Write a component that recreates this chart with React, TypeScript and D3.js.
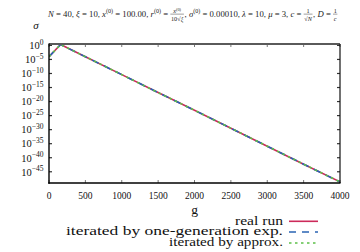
import React from "react";
import * as d3 from "d3";

const generations = [0, 160, 500, 1000, 1500, 2000, 2500, 3000, 3500, 4000];
const realRun = [1e-4, 2, 9.3e-5, 4e-11, 1.6e-17, 8e-24, 3.2e-30, 1.3e-36, 5e-43, 2.5e-49];
const oneGenExp = [1e-4, 2, 9.3e-5, 4e-11, 1.6e-17, 8e-24, 3.2e-30, 1.3e-36, 5e-43, 2.5e-49];
const approxRun = [1e-4, 2, 9.3e-5, 4e-11, 1.6e-17, 8e-24, 3.2e-30, 1.3e-36, 5e-43, 2.5e-49];
const xTicks = [0, 500, 1000, 1500, 2000, 2500, 3000, 3500, 4000];
const yTickExps = [0, -5, -10, -15, -20, -25, -30, -35, -40, -45];
const legendLabels = ["real run", "iterated by one-generation exp.", "iterated by approx."];
const legendWidths = [48, 217, 114];
const seriesColors = ["#cc2a5a", "#2a64b4", "#5cc048"];
const seriesDash = ["", "7,6", "2.5,3.5"];

const W = 360;
const H = 252;
const M = { left: 49, right: 340, top: 44, bottom: 183 };
const FONT = "'Liberation Serif', 'Times New Roman', serif";

type Part = { t: string; it?: boolean; sup?: boolean };
type Seg = { kind: "text"; parts: Part[] } | { kind: "frac"; num: Part[]; den: Part[] };

const titleSegs: Seg[] = [
  { kind: "text", parts: [{ t: "N", it: true }, { t: " = 40, " }, { t: "ξ", it: true }, { t: " = 10, " },
    { t: "x", it: true }, { t: "(0)", sup: true }, { t: " = 100.00, " },
    { t: "r", it: true }, { t: "(0)", sup: true }, { t: " = " }] },
  { kind: "frac", num: [{ t: "x", it: true }, { t: "(0)", sup: true }], den: [{ t: "10√" }, { t: "ξ", it: true }] },
  { kind: "text", parts: [{ t: ", " }, { t: "σ", it: true }, { t: "(0)", sup: true }, { t: " = 0.00010, " },
    { t: "λ", it: true }, { t: " = 10, " }, { t: "μ", it: true }, { t: " = 3, " },
    { t: "c", it: true }, { t: " = " }] },
  { kind: "frac", num: [{ t: "1" }], den: [{ t: "√" }, { t: "N", it: true }] },
  { kind: "text", parts: [{ t: ", " }, { t: "D", it: true }, { t: " = " }] },
  { kind: "frac", num: [{ t: "1" }], den: [{ t: "c", it: true }] },
];

let ctx: CanvasRenderingContext2D | null = null;
function measureParts(parts: Part[], size: number): number {
  if (!ctx) ctx = document.createElement("canvas").getContext("2d");
  let w = 0;
  parts.forEach((p) => {
    const s = p.sup ? size * 0.7 : size;
    ctx!.font = `${p.it ? "italic " : ""}${s}px 'Liberation Serif'`;
    w += ctx!.measureText(p.t).width;
  });
  return w;
}

function PartsText({ parts, x, y, size, anchor }: { parts: Part[]; x: number; y: number; size: number; anchor?: string }) {
  let shifted = false;
  return (
    <text x={x} y={y} fontSize={size} textAnchor={anchor || "start"} fill="#222" style={{ fontFamily: FONT }}>
      {parts.map((p, i) => {
        let dy: number | undefined;
        if (p.sup && !shifted) { dy = -size * 0.4; shifted = true; }
        else if (!p.sup && shifted) { dy = size * 0.4; shifted = false; }
        return (
          <tspan key={i} dy={dy} fontSize={p.sup ? size * 0.7 : undefined} fontStyle={p.it ? "italic" : undefined}>{p.t}</tspan>
        );
      })}
    </text>
  );
}

function Title() {
  const fs = 7;
  const fsF = fs * 0.72;
  let cx = 0;
  const els: React.ReactNode[] = [];
  titleSegs.forEach((seg, i) => {
    if (seg.kind === "text") {
      els.push(<PartsText key={i} parts={seg.parts} x={cx} y={0} size={fs} />);
      cx += measureParts(seg.parts, fs);
    } else {
      const w = Math.max(measureParts(seg.num, fsF), measureParts(seg.den, fsF)) + 1;
      els.push(<PartsText key={i + "n"} parts={seg.num} x={cx + w / 2} y={-2.6} size={fsF} anchor="middle" />);
      els.push(<PartsText key={i + "d"} parts={seg.den} x={cx + w / 2} y={3.6} size={fsF} anchor="middle" />);
      els.push(<line key={i + "l"} x1={cx} x2={cx + w} y1={-1.9} y2={-1.9} stroke="#222" strokeWidth={0.35} />);
      cx += w + 0.5;
    }
  });
  const sc = 290 / cx;
  return <g transform={`translate(48,16.5) scale(${sc})`}>{els}</g>;
}

export default function App() {
  document.body.style.margin = "0";
  const x = d3.scaleLinear().domain([0, 4000]).range([M.left, M.right]);
  const y = d3.scaleLog().domain([1e-49, Math.pow(10, 0.5)]).range([M.bottom, M.top]);
  const line = d3.line<number>().x((_, i) => x(generations[i])).y((d) => y(d));
  const allSeries = [realRun, oneGenExp, approxRun];
  const legY = [221.3, 232, 243];
  const tf = { fontFamily: FONT };

  return (
    <svg width={W} height={H} style={{ display: "block", fontFamily: FONT }}>
      <rect width={W} height={H} fill="#fff" />
      <defs>
        <clipPath id="plotclip">
          <rect x={M.left} y={M.top - 1} width={M.right - M.left} height={M.bottom - M.top + 2} />
        </clipPath>
      </defs>
      <Title />
      <g clipPath="url(#plotclip)">
        {allSeries.map((data, k) => (
          <path key={k} d={line(data) as string} fill="none" stroke={seriesColors[k]} strokeWidth={1.6}
            strokeDasharray={seriesDash[k] || undefined} />
        ))}
      </g>
      {xTicks.map((t) => (
        <g key={t}>
          <line x1={x(t)} x2={x(t)} y1={M.bottom} y2={M.bottom - 3} stroke="#777" />
          <line x1={x(t)} x2={x(t)} y1={M.top} y2={M.top + 3} stroke="#777" />
          <text x={x(t)} y={198.5} textAnchor="middle" fontSize={9.5} fill="#111" style={tf}>{t}</text>
        </g>
      ))}
      {yTickExps.map((e) => {
        const yy = y(Math.pow(10, e));
        return (
          <g key={e}>
            <line x1={M.left} x2={M.left + 3} y1={yy} y2={yy} stroke="#333" strokeWidth={1.2} />
            <line x1={M.right} x2={M.right - 3} y1={yy} y2={yy} stroke="#333" strokeWidth={1.2} />
            <text x={43.5} y={yy + 3.8} textAnchor="end" fontSize={10.5} fill="#111" style={tf}>
              <tspan>10</tspan>
              <tspan dy={-4.5} fontSize={7.5}>{e === 0 ? "0" : "\u2212" + String(-e)}</tspan>
            </text>
          </g>
        );
      })}
      <line x1={M.left} x2={M.right} y1={M.top} y2={M.top} stroke="#5a5a5a" strokeWidth={1.8} />
      <line x1={M.right} x2={M.right} y1={M.top} y2={M.bottom} stroke="#111" strokeWidth={1.2} />
      <line x1={M.left} x2={M.left} y1={M.top - 0.5} y2={M.bottom + 0.7} stroke="#000" strokeWidth={1.4} />
      <line x1={M.left - 0.7} x2={M.right + 0.5} y1={M.bottom} y2={M.bottom} stroke="#000" strokeWidth={1.4} />
      <text x={36} y={29} textAnchor="middle" fontStyle="italic" fontSize={11} fill="#111" style={tf}>σ</text>
      <text x={(M.left + M.right) / 2} y={213.5} textAnchor="middle" fontSize={13.5} fill="#111" style={tf}>g</text>
      {legendLabels.map((lab, k) => (
        <g key={lab}>
          <text x={283} y={legY[k] + 3.2} textAnchor="end" fontSize={12} fill="#111" style={tf}
            textLength={legendWidths[k]} lengthAdjust="spacingAndGlyphs">{lab}</text>
          <line x1={289} x2={318} y1={legY[k]} y2={legY[k]} stroke={seriesColors[k]} strokeWidth={1.6}
            strokeDasharray={seriesDash[k] || undefined} />
        </g>
      ))}
    </svg>
  );
}
